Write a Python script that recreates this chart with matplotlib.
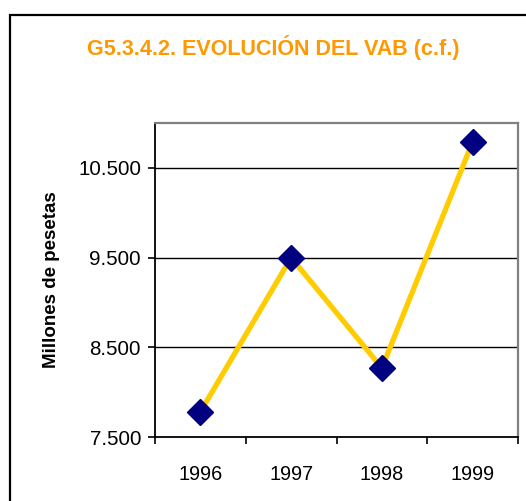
import matplotlib
matplotlib.use("Agg")
import matplotlib.pyplot as plt
from matplotlib.patches import Rectangle

years = ["1996", "1997", "1998", "1999"]
values = [7780, 9500, 8270, 10790]
yticks = [7500, 8500, 9500, 10500]
ytick_labels = ["7.500", "8.500", "9.500", "10.500"]

plt.rcParams['font.family'] = ['Liberation Sans', 'DejaVu Sans']

fig = plt.figure(figsize=(5.26, 5.01), dpi=100)
fig.patch.set_facecolor('white')
fig.patches.append(Rectangle((10/526, -0.2), 1.2, 1.2 - 15/501 + 0.0, transform=fig.transFigure,
                             fill=False, edgecolor='black', linewidth=1.6))

ax = fig.add_axes([155/526, 64/501, 363/526, 314/501])
x = list(range(len(years)))
ax.plot(x, values, color='#FFCC00', linewidth=3.8, zorder=3)
ax.plot(x, values, linestyle='none', marker='D', markersize=12.8, color='#000080', zorder=4)

ax.set_xlim(-0.5, 3.5)
ax.set_ylim(7500, 11000)
ax.set_yticks(yticks)
ax.set_yticklabels(ytick_labels)
ax.set_xticks(x)
ax.set_xticklabels(years)
ax.set_xticks([-0.5, 0.5, 1.5, 2.5, 3.5], minor=True)
ax.tick_params(axis='x', which='major', length=0, pad=20, labelsize=14.3)
ax.tick_params(axis='x', which='minor', length=5, width=1.2, direction='out')
ax.tick_params(axis='y', length=5, width=1.2, direction='out', labelsize=14.8, pad=5)
for v in yticks[1:]:
    ax.axhline(v, color='black', linewidth=1.0, zorder=1)
ax.spines['left'].set_linewidth(1.3)
ax.spines['bottom'].set_linewidth(1.3)
ax.spines['top'].set_color('#808080')
ax.spines['right'].set_color('#808080')
ax.spines['top'].set_linewidth(1.6)
ax.spines['right'].set_linewidth(1.6)

ax.set_ylabel("Millones de pesetas", fontsize=13.5, fontweight='bold', labelpad=13)

fig.text(273/526, 1 - 47/501, "G5.3.4.2. EVOLUCIÓN DEL VAB (c.f.)", color='#FF9900',
         fontsize=15.5, fontweight='bold', ha='center', va='center')

fig.savefig("out.png", dpi=100)
